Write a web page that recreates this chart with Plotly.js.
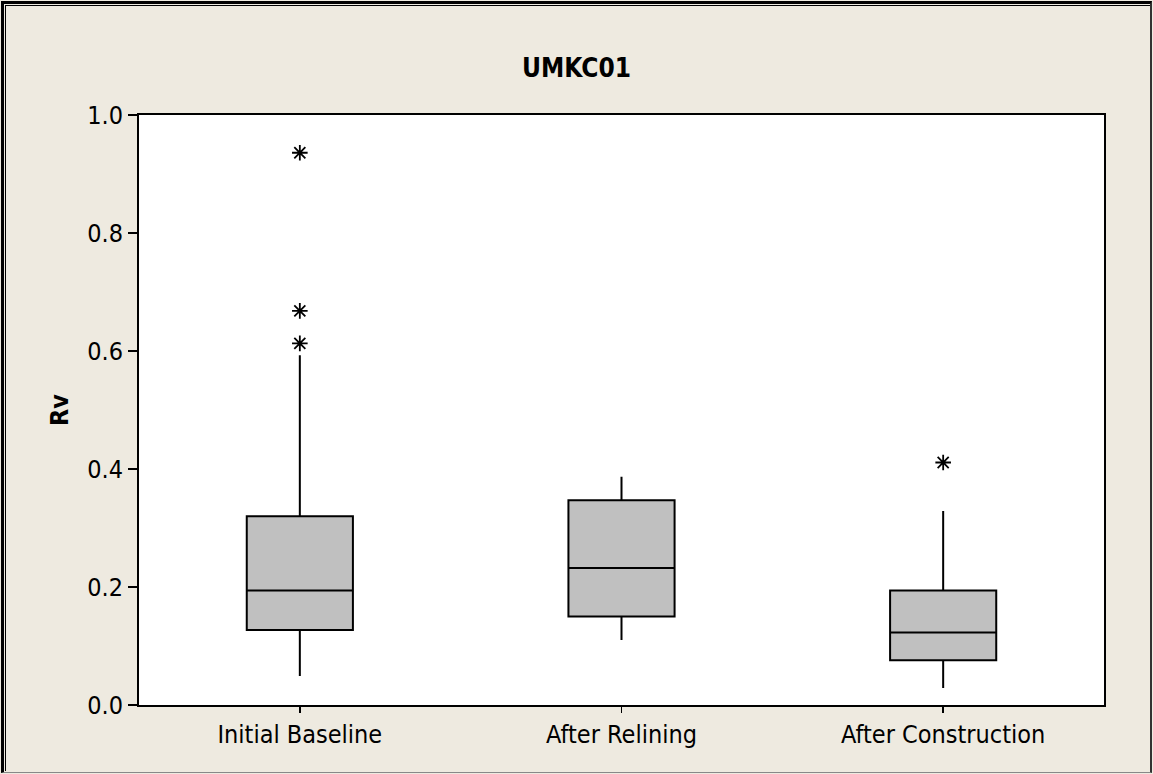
<!DOCTYPE html>
<html>
<head>
<meta charset="utf-8">
<script src="https://cdn.plot.ly/plotly-3.0.1.min.js"></script>
<style>
  html, body { margin: 0; padding: 0; background: #EEEAE0; }
  #wrap { position: relative; width: 1153px; height: 774px; overflow: hidden; }
  #plot { position: absolute; left: 0; top: 0; width: 1153px; height: 774px; }
  #frame1 { position: absolute; left: 1px; top: 1px; width: 1151px; height: 772px; box-sizing: border-box;
            border-left: 3px solid #000; border-top: 3px solid #000; border-right: 2px solid #333; border-bottom: 1px solid #888; pointer-events: none; }
  #frame2 { position: absolute; left: 5px; top: 5px; width: 1145px; height: 766px; box-sizing: border-box;
            border-left: 1px solid #000; border-top: 1px solid #000; pointer-events: none; }
</style>
</head>
<body>
<div id="wrap">
  <div id="plot"></div>
  <div id="frame1"></div>
  <div id="frame2"></div>
</div>
<script>
// ---- data ----
const categories = ['Initial Baseline', 'After Relining', 'After Construction'];
const lowerWhisker = [0.049, 0.110, 0.029];
const q1Values     = [0.127, 0.150, 0.076];
const medianValues = [0.194, 0.232, 0.123];
const q3Values     = [0.320, 0.347, 0.194];
const upperWhisker = [0.593, 0.387, 0.329];
const outlierCategories = ['Initial Baseline', 'Initial Baseline', 'Initial Baseline', 'After Construction'];
const outlierValues     = [0.936, 0.668, 0.613, 0.411];
const yTickValues = [0.0, 0.2, 0.4, 0.6, 0.8, 1.0];
const yTickLabels = ['0.0', '0.2', '0.4', '0.6', '0.8', '1.0'];

const FONT = '"DejaVu Sans Condensed", "DejaVu Sans", Verdana, sans-serif';

const boxTrace = {
  type: 'box',
  x: categories,
  q1: q1Values,
  median: medianValues,
  q3: q3Values,
  lowerfence: lowerWhisker,
  upperfence: upperWhisker,
  width: 0.33,
  whiskerwidth: 0,
  fillcolor: '#C0C0C0',
  line: { color: '#000000', width: 2 },
  boxpoints: false,
  hoverinfo: 'y',
  showlegend: false
};

const outlierTrace = {
  type: 'scatter',
  mode: 'markers',
  x: outlierCategories,
  y: outlierValues,
  marker: { symbol: 'asterisk-open', size: 13, color: '#000', line: { color: '#000', width: 1.8 } },
  showlegend: false,
  hoverinfo: 'y'
};

const layout = {
  width: 1153,
  height: 774,
  paper_bgcolor: '#EEEAE0',
  plot_bgcolor: '#FFFFFF',
  margin: { l: 139, r: 49, t: 115, b: 69, pad: 0 },
  showlegend: false,
  title: {
    text: '<b>UMKC01</b>',
    font: { family: FONT, size: 26, color: '#000' },
    x: 0.5, xanchor: 'center',
    y: 1 - 68 / 774, yanchor: 'middle'
  },
  xaxis: {
    type: 'category',
    categoryorder: 'array',
    categoryarray: categories,
    range: [-0.5, 2.5],
    showgrid: false,
    zeroline: false,
    showline: true,
    linecolor: '#000',
    linewidth: 2,
    mirror: true,
    ticks: 'outside',
    ticklen: 6,
    tickwidth: 1.5,
    tickcolor: '#000',
    tickfont: { family: FONT, size: 25, color: '#000' },
    fixedrange: true
  },
  yaxis: {
    range: [0, 1],
    tickvals: yTickValues,
    ticktext: yTickLabels,
    showgrid: false,
    zeroline: false,
    showline: true,
    linecolor: '#000',
    linewidth: 2,
    mirror: true,
    ticks: 'outside',
    ticklen: 9,
    tickwidth: 1.5,
    tickcolor: '#000',
    tickfont: { family: FONT, size: 25, color: '#000' },
    title: {
      text: '<b>Rv</b>',
      font: { family: FONT, size: 25, color: '#000' },
      standoff: 11
    },
    fixedrange: true
  }
};

Plotly.newPlot('plot', [boxTrace, outlierTrace], layout, { displayModeBar: false, staticPlot: true });
</script>
</body>
</html>
